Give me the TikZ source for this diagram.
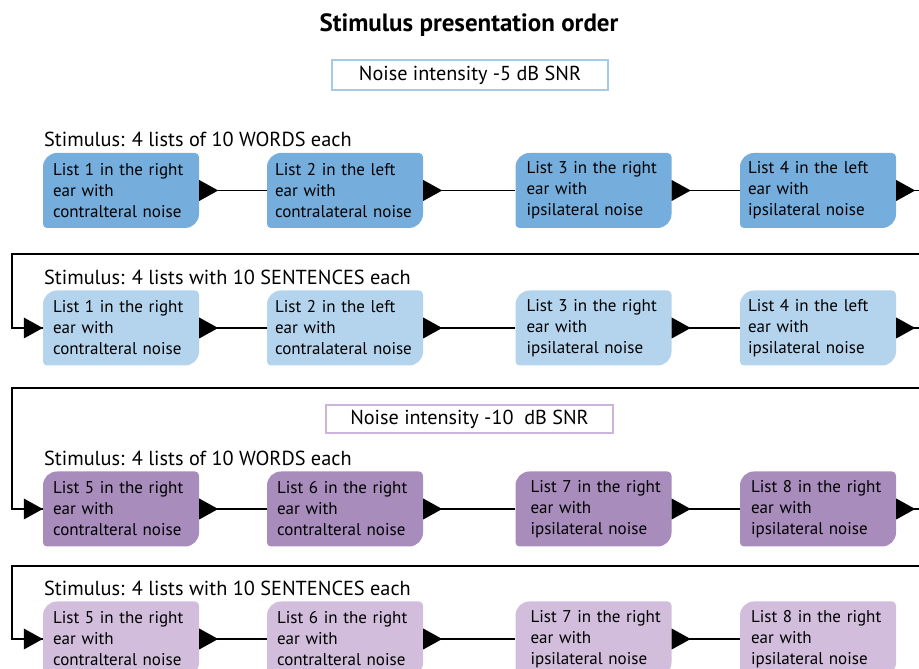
\documentclass[tikz,border=0pt]{standalone}
\usepackage{fontspec}
\setmainfont{PT Sans}
\definecolor{cA}{RGB}{117,173,220}
\definecolor{cB}{RGB}{180,212,238}
\definecolor{cC}{RGB}{168,140,188}
\definecolor{cD}{RGB}{210,190,220}
\definecolor{nblue}{RGB}{165,203,235}
\definecolor{npurp}{RGB}{205,180,220}
\newcommand\rtri[1]{\fill (#1) -- ++(0,10.5) -- ++(19,-10.5) -- ++(-19,-10.5) -- cycle;}
\newcommand\ltri[1]{\fill (#1) -- ++(-19,10.5) -- ++(0,-21) -- cycle;}
\begin{document}
\begin{tikzpicture}[x=1pt,y=1pt,
  leaf/.style={text width=144pt, inner xsep=6pt, minimum height=75pt, inner ysep=0pt,
    align=left, font=\fontsize{17}{21}\selectfont,
    path picture={\fill[#1] ([yshift=-14pt]path picture bounding box.north west)
      arc[start angle=180,end angle=90,radius=14pt]
      -- ([xshift=-4pt]path picture bounding box.north east)
      arc[start angle=90,end angle=0,radius=4pt]
      -- ([yshift=14pt]path picture bounding box.south east)
      arc[start angle=0,end angle=-90,radius=14pt]
      -- ([xshift=4pt]path picture bounding box.south west)
      arc[start angle=-90,end angle=-180,radius=4pt] -- cycle;}},
  lbl/.style={anchor=west, inner sep=0pt, font=\fontsize{20.3}{24}\selectfont},
  noise/.style={line width=1.3pt, inner sep=0pt, font=\fontsize{20.2}{24}\selectfont},
  conn/.style={line width=1.4pt},
  frame/.style={line width=1.8pt}]
\useasboundingbox (0,0) rectangle (919,669);
\clip (0,0) rectangle (919,669);
\node[font=\bfseries\fontsize{25}{29}\selectfont] (title) at (469,644) {Stimulus presentation order};
\node[noise, draw=nblue, minimum width=276pt, minimum height=30pt] (n1) at (470,594) {Noise intensity -5 dB SNR};
\node[noise, draw=npurp, minimum width=287pt, minimum height=28pt] (n2) at (469.5,250) {Noise intensity -10\ \ dB SNR};
% row labels
\node[lbl] (l1) at (44,530) {Stimulus: 4 lists of 10 WORDS each};
\node[lbl] (l2) at (44,392) {Stimulus: 4 lists with 10 SENTENCES each};
\node[lbl] (l3) at (44,211) {Stimulus: 4 lists of 10 WORDS each};
\node[lbl] (l4) at (44,81) {Stimulus: 4 lists with 10 SENTENCES each};
% row 1
\node[leaf=cA] (a1) at (121,478.5) {\hspace*{4pt}List 1 in the right\\\hspace*{4pt}ear with\\\hspace*{4pt}contralteral noise};
\node[leaf=cA] (a2) at (345,478.5) {\hspace*{2pt}List 2 in the left\\\hspace*{2pt}ear with\\\hspace*{2pt}contralateral noise};
\node[leaf=cA] (a3) at (593.5,478.5) {\hspace*{5pt}List 3 in the right\\\hspace*{5pt}ear with\\\hspace*{5pt}ipsilateral noise};
\node[leaf=cA] (a4) at (818,478.5) {\hspace*{2pt}List 4 in the left\\\hspace*{2pt}ear with\\\hspace*{2pt}ipsilateral noise};
% row 2
\node[leaf=cB] (b1) at (121,341) {\hspace*{4pt}List 1 in the right\\\hspace*{4pt}ear with\\\hspace*{4pt}contralteral noise};
\node[leaf=cB] (b2) at (345,341) {\hspace*{2pt}List 2 in the left\\\hspace*{2pt}ear with\\\hspace*{2pt}contralateral noise};
\node[leaf=cB] (b3) at (593.5,341) {\hspace*{5pt}List 3 in the right\\\hspace*{5pt}ear with\\\hspace*{5pt}ipsilateral noise};
\node[leaf=cB] (b4) at (818,341) {\hspace*{2pt}List 4 in the left\\\hspace*{2pt}ear with\\\hspace*{2pt}ipsilateral noise};
% row 3
\node[leaf=cC] (c1) at (121,160) {\hspace*{4pt}List 5 in the right\\\hspace*{4pt}ear with\\\hspace*{4pt}contralteral noise};
\node[leaf=cC] (c2) at (345,160) {\hspace*{4pt}List 6 in the right\\\hspace*{4pt}ear with\\\hspace*{4pt}contralteral noise};
\node[leaf=cC] (c3) at (593.5,160) {\hspace*{9pt}List 7 in the right\\\hspace*{9pt}ear with\\\hspace*{9pt}ipsilateral noise};
\node[leaf=cC] (c4) at (818,160) {\hspace*{5pt}List 8 in the right\\\hspace*{5pt}ear with\\\hspace*{5pt}ipsilateral noise};
% row 4
\node[leaf=cD] (d1) at (121,30) {\hspace*{4pt}List 5 in the right\\\hspace*{4pt}ear with\\\hspace*{4pt}contralteral noise};
\node[leaf=cD] (d2) at (345,30) {\hspace*{4pt}List 6 in the right\\\hspace*{4pt}ear with\\\hspace*{4pt}contralteral noise};
\node[leaf=cD] (d3) at (593.5,30) {\hspace*{9pt}List 7 in the right\\\hspace*{9pt}ear with\\\hspace*{9pt}ipsilateral noise};
\node[leaf=cD] (d4) at (818,30) {\hspace*{5pt}List 8 in the right\\\hspace*{5pt}ear with\\\hspace*{5pt}ipsilateral noise};
% corner coordinates of the return lines
\coordinate (t1) at (12,415);
\coordinate (t2) at (12,281);
\coordinate (t3) at (12,103);
% connectors within rows
\foreach \r in {a,b,c,d}{
  \draw[conn] (\r1.east) -- (\r2.west);
  \draw[conn] (\r2.east) -- (\r3.west);
  \draw[conn] (\r3.east) -- (\r4.west);
  \rtri{\r1.east}
  \rtri{\r2.east}
  \rtri{\r3.east}
}
% return lines between rows
\draw[frame] (a4.east) -- ([xshift=40pt]a4.east) |- (t1) |- (b1.west);
\draw[frame] (b4.east) -- ([xshift=40pt]b4.east) |- (t2) |- (c1.west);
\draw[frame] (c4.east) -- ([xshift=40pt]c4.east) |- (t3) |- (d1.west);
\rtri{a4.east}
\rtri{b4.east}
\rtri{c4.east}
\ltri{b1.west}
\ltri{c1.west}
\ltri{d1.west}
\end{tikzpicture}
\end{document}
